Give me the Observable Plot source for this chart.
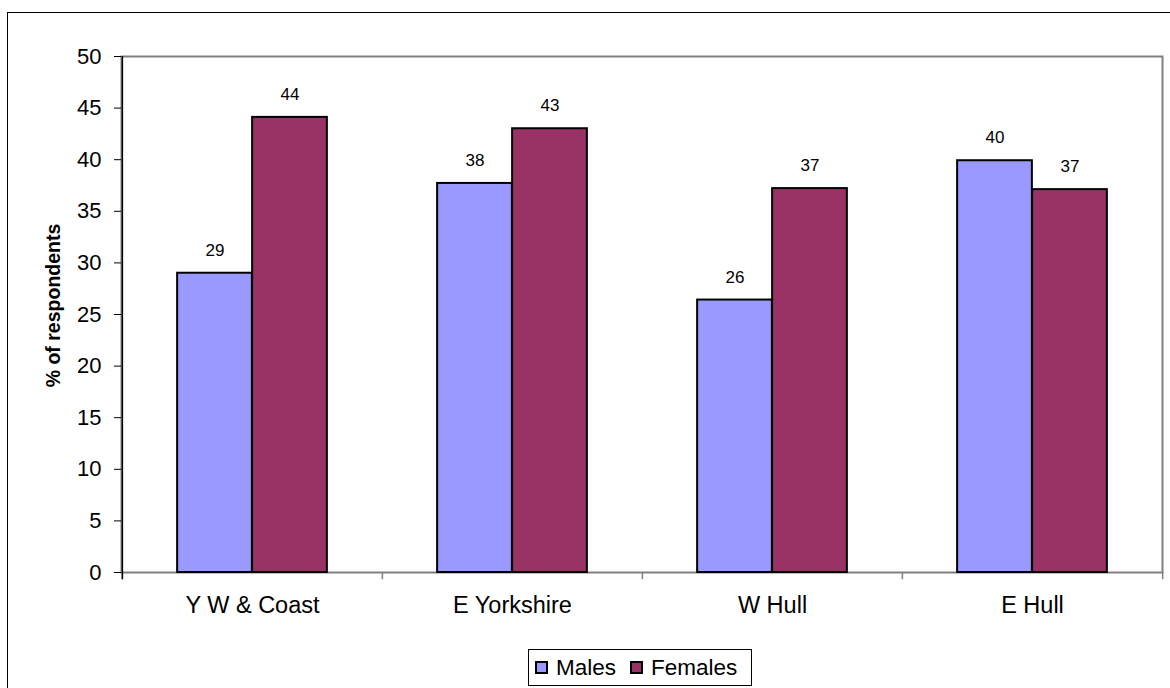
<!DOCTYPE html>
<html>
<head>
<meta charset="utf-8">
<script src="https://cdn.jsdelivr.net/npm/d3@7"></script>
<script src="https://cdn.jsdelivr.net/npm/@observablehq/plot@0.6"></script>
<style>
  html, body { margin: 0; padding: 0; background: #fff; overflow: hidden; }
  body { width: 1170px; height: 688px; position: relative; font-family: "Liberation Sans", Arial, sans-serif; }
  #border { position: absolute; left: 7px; top: 12px; width: 1200px; height: 720px; border: 1px solid #000; box-sizing: border-box; }
  #chart { position: absolute; left: 0; top: 0; }
  #legend { position: absolute; left: 528px; top: 649px; width: 224px; height: 37px; border: 1px solid #000; box-sizing: border-box; background: #fff;
            display: flex; align-items: center; padding-left: 6px; gap: 14px; font-size: 22.5px; color: #000; }
  .item { display: flex; align-items: center; gap: 8px; }
  .sw { width: 9px; height: 9px; border: 2px solid #000; }
</style>
</head>
<body>
<div id="border"></div>
<div id="chart"></div>
<div id="legend"></div>
<script>
const categories = ["Y W & Coast", "E Yorkshire", "W Hull", "E Hull"];
const seriesNames = ["Males", "Females"];
const males = [29.0, 37.7, 26.4, 39.9];
const females = [44.1, 43.0, 37.2, 37.1];
const seriesColors = ["#9999FF", "#993366"];
const yTicks = [0, 5, 10, 15, 20, 25, 30, 35, 40, 45, 50];
const yLabel = "% of respondents";

const rows = [];
categories.forEach((c, i) => {
  rows.push({category: c, series: "Males", value: males[i]});
  rows.push({category: c, series: "Females", value: females[i]});
});
const maleRows = rows.filter(d => d.series === "Males");
const femaleRows = rows.filter(d => d.series === "Females");

const W = 1170, H = 620;
const mL = 121, mR = 8, mT = 56, mB = 48;
const band = (W - mL - mR) / categories.length;
const half = band / 2;
const barW = 75;
const outer = half - barW;

const chart = Plot.plot({
  width: W, height: H,
  marginLeft: mL, marginRight: mR, marginTop: mT, marginBottom: mB,
  style: {fontFamily: "'Liberation Sans', Arial, sans-serif", background: "transparent", color: "#000"},
  x: {domain: categories, padding: 0, axis: null},
  y: {domain: [0, 50], axis: null},
  marks: [
    Plot.frame({stroke: "#808080", strokeWidth: 2}),
    Plot.barY(maleRows, {x: "category", y: "value", fill: seriesColors[0], stroke: "#000", strokeWidth: 2, insetLeft: outer, insetRight: half}),
    Plot.barY(femaleRows, {x: "category", y: "value", fill: seriesColors[1], stroke: "#000", strokeWidth: 2, insetLeft: half, insetRight: outer}),
    Plot.text(maleRows, {x: "category", y: "value", text: d => Math.round(d.value), dx: -barW / 2, dy: -23, fontSize: 17, fill: "#000"}),
    Plot.text(femaleRows, {x: "category", y: "value", text: d => Math.round(d.value), dx: barW / 2, dy: -23, fontSize: 17, fill: "#000"}),
    Plot.ruleX(categories, {x: d => d, dx: -half, y1: 0, y2: -0.7, stroke: "#808080", strokeWidth: 1.5}),
    Plot.ruleX([categories[categories.length - 1]], {x: d => d, dx: half, y1: 0, y2: -0.7, stroke: "#808080", strokeWidth: 1.5}),
    Plot.ruleX([categories[0]], {x: d => d, dx: -half, y1: -0.7, y2: 50, stroke: "#000", strokeWidth: 1.5}),
    Plot.axisY({ticks: yTicks, tickSize: 7, tickPadding: 13, fontSize: 22, label: null}),
    Plot.axisX({tickSize: 0, tickPadding: 24, fontSize: 23.5, label: null}),
    Plot.text([yLabel], {frameAnchor: "left", text: d => d, rotate: -90, textAnchor: "middle", dx: -68, dy: -9, fontSize: 19.5, fontWeight: "bold", fill: "#000"})
  ]
});
document.getElementById("chart").appendChild(chart);

const legend = document.getElementById("legend");
seriesNames.forEach((s, i) => {
  const item = document.createElement("div");
  item.className = "item";
  const sw = document.createElement("div");
  sw.className = "sw";
  sw.style.background = seriesColors[i];
  const t = document.createElement("span");
  t.textContent = s;
  item.appendChild(sw);
  item.appendChild(t);
  legend.appendChild(item);
});
</script>
</body>
</html>
